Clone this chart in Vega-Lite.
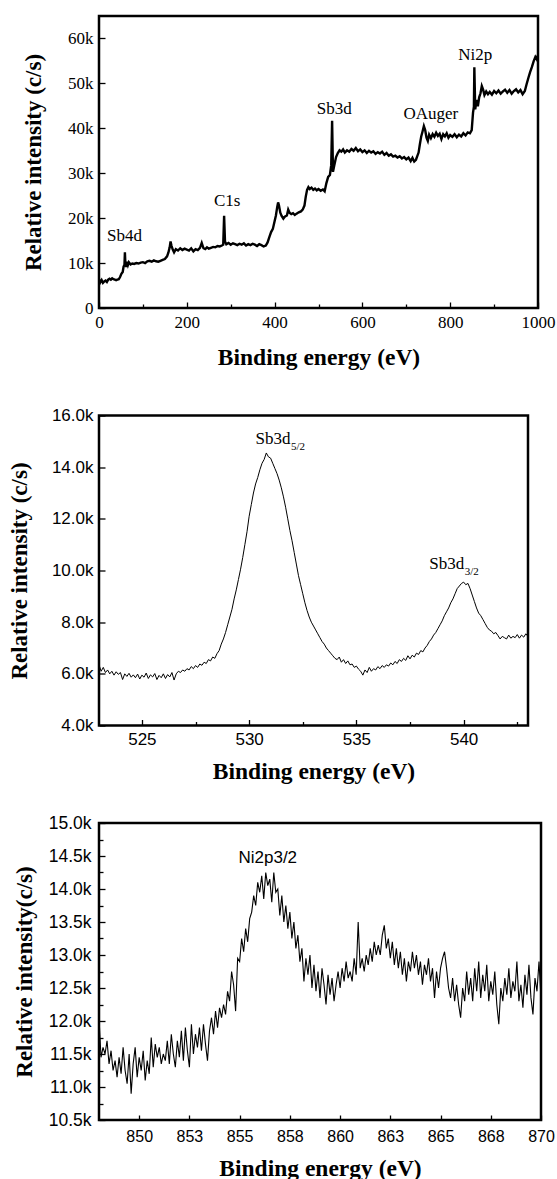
{
  "$schema": "https://vega.github.io/schema/vega-lite/v6.json",
  "background": "white",
  "padding": {"left": 7, "top": 14, "right": 5, "bottom": 1},
  "spacing": 27.5,
  "config": {
    "view": {"stroke": "black", "strokeWidth": 2.5},
    "axis": {"domain": false, "grid": false, "tickColor": "black", "labelColor": "black", "titleColor": "black", "labelFlush": false, "labelOverlap": false, "labelBound": false, "tickWidth": 1.3, "titleBaseline": "middle", "titleAlign": "center"},
    "text": {"color": "black"}
  },
  "datasets": {
    "survey": [
      {"x":0,"y":6400},{"x":3,"y":5700},{"x":6,"y":6200},{"x":9,"y":5600},{"x":12,"y":5900},{"x":15,"y":6100},{"x":18,"y":5800},{"x":21,"y":6300},{"x":24,"y":6500},{"x":27,"y":6300},{"x":30,"y":6600},{"x":33,"y":6400},{"x":36,"y":6300},{"x":39,"y":6200},{"x":42,"y":6300},{"x":45,"y":6400},{"x":48,"y":6900},{"x":51,"y":7600},{"x":54,"y":8000},{"x":56,"y":9200},{"x":58,"y":9600},{"x":59,"y":12400},{"x":60,"y":10100},{"x":62,"y":9100},{"x":64,"y":10300},{"x":66,"y":9600},{"x":68,"y":10200},{"x":72,"y":9700},{"x":76,"y":9900},{"x":80,"y":9800},{"x":85,"y":10000},{"x":90,"y":9900},{"x":95,"y":10100},{"x":100,"y":10200},{"x":105,"y":10000},{"x":110,"y":10400},{"x":115,"y":10500},{"x":120,"y":10300},{"x":125,"y":10600},{"x":130,"y":10400},{"x":135,"y":10300},{"x":140,"y":10500},{"x":145,"y":10700},{"x":150,"y":10900},{"x":155,"y":11500},{"x":158,"y":12300},{"x":161,"y":13500},{"x":163,"y":14800},{"x":165,"y":13900},{"x":168,"y":13000},{"x":171,"y":12400},{"x":175,"y":13100},{"x":180,"y":12800},{"x":185,"y":13300},{"x":190,"y":12900},{"x":195,"y":13200},{"x":200,"y":13000},{"x":205,"y":12800},{"x":210,"y":13300},{"x":215,"y":12600},{"x":220,"y":13100},{"x":225,"y":12900},{"x":230,"y":13400},{"x":234,"y":14500},{"x":238,"y":13300},{"x":242,"y":13100},{"x":246,"y":13500},{"x":250,"y":13200},{"x":255,"y":13400},{"x":260,"y":13600},{"x":265,"y":13500},{"x":270,"y":13800},{"x":275,"y":13700},{"x":280,"y":13900},{"x":283,"y":14100},{"x":285,"y":20500},{"x":287,"y":14800},{"x":290,"y":14200},{"x":295,"y":14500},{"x":300,"y":14100},{"x":305,"y":14400},{"x":310,"y":14200},{"x":315,"y":14000},{"x":320,"y":14300},{"x":325,"y":14100},{"x":330,"y":14400},{"x":335,"y":13900},{"x":340,"y":14200},{"x":345,"y":14000},{"x":350,"y":14300},{"x":355,"y":14100},{"x":360,"y":13800},{"x":365,"y":14200},{"x":370,"y":14000},{"x":375,"y":13700},{"x":380,"y":13900},{"x":384,"y":14600},{"x":388,"y":15800},{"x":392,"y":16900},{"x":396,"y":17600},{"x":400,"y":19300},{"x":403,"y":20600},{"x":406,"y":22500},{"x":408,"y":23500},{"x":410,"y":22800},{"x":413,"y":21200},{"x":416,"y":20500},{"x":420,"y":19900},{"x":424,"y":20400},{"x":428,"y":20600},{"x":431,"y":21900},{"x":434,"y":21200},{"x":438,"y":20900},{"x":442,"y":21100},{"x":446,"y":20700},{"x":450,"y":21000},{"x":455,"y":21300},{"x":460,"y":21500},{"x":464,"y":21900},{"x":468,"y":22800},{"x":471,"y":24800},{"x":474,"y":26300},{"x":477,"y":26900},{"x":480,"y":26500},{"x":484,"y":26800},{"x":488,"y":26300},{"x":492,"y":26600},{"x":496,"y":26200},{"x":500,"y":26500},{"x":505,"y":26100},{"x":510,"y":26400},{"x":514,"y":26000},{"x":518,"y":27800},{"x":522,"y":29200},{"x":526,"y":29600},{"x":529,"y":31800},{"x":531,"y":41700},{"x":533,"y":30300},{"x":536,"y":31800},{"x":540,"y":33600},{"x":544,"y":34500},{"x":548,"y":35100},{"x":552,"y":34800},{"x":556,"y":35300},{"x":560,"y":34600},{"x":565,"y":35100},{"x":570,"y":34800},{"x":575,"y":35400},{"x":580,"y":35000},{"x":585,"y":35600},{"x":590,"y":34900},{"x":595,"y":35300},{"x":600,"y":34700},{"x":605,"y":35100},{"x":610,"y":34500},{"x":615,"y":35000},{"x":620,"y":34600},{"x":625,"y":34900},{"x":630,"y":34300},{"x":635,"y":34700},{"x":640,"y":34400},{"x":645,"y":34800},{"x":650,"y":34100},{"x":655,"y":34500},{"x":660,"y":33900},{"x":665,"y":34200},{"x":670,"y":33700},{"x":675,"y":33900},{"x":680,"y":33500},{"x":685,"y":33800},{"x":690,"y":33300},{"x":695,"y":33600},{"x":700,"y":33100},{"x":705,"y":33500},{"x":710,"y":32700},{"x":714,"y":33400},{"x":718,"y":32600},{"x":722,"y":33000},{"x":725,"y":33800},{"x":728,"y":34600},{"x":731,"y":36500},{"x":734,"y":38200},{"x":737,"y":39300},{"x":740,"y":40500},{"x":743,"y":39600},{"x":746,"y":37900},{"x":749,"y":37200},{"x":752,"y":38600},{"x":756,"y":37800},{"x":760,"y":38700},{"x":764,"y":38100},{"x":768,"y":39000},{"x":772,"y":38300},{"x":776,"y":38800},{"x":780,"y":37600},{"x":784,"y":38700},{"x":788,"y":38200},{"x":792,"y":38900},{"x":796,"y":37900},{"x":800,"y":38500},{"x":805,"y":38100},{"x":810,"y":38700},{"x":815,"y":38000},{"x":820,"y":38600},{"x":825,"y":38200},{"x":830,"y":38900},{"x":835,"y":38400},{"x":840,"y":39100},{"x":845,"y":38900},{"x":849,"y":39600},{"x":852,"y":43500},{"x":854,"y":44800},{"x":855,"y":53600},{"x":857,"y":44200},{"x":860,"y":46300},{"x":863,"y":44900},{"x":866,"y":46900},{"x":869,"y":47800},{"x":872,"y":49400},{"x":875,"y":48600},{"x":878,"y":47400},{"x":882,"y":48200},{"x":886,"y":47600},{"x":890,"y":48100},{"x":895,"y":47500},{"x":900,"y":48300},{"x":905,"y":47800},{"x":910,"y":48400},{"x":915,"y":47700},{"x":920,"y":48200},{"x":925,"y":48600},{"x":930,"y":47900},{"x":935,"y":48500},{"x":940,"y":47700},{"x":945,"y":48300},{"x":950,"y":48700},{"x":955,"y":48000},{"x":960,"y":48500},{"x":965,"y":47600},{"x":970,"y":48300},{"x":974,"y":49800},{"x":978,"y":51200},{"x":982,"y":52500},{"x":986,"y":53600},{"x":990,"y":54900},{"x":994,"y":55900},{"x":997,"y":55400},{"x":1000,"y":56300}
    ],
    "labels1": [
      {"label":"Sb4d","x":58,"y":16000},
      {"label":"C1s","x":292,"y":23800},
      {"label":"Sb3d","x":536,"y":44200},
      {"label":"OAuger","x":756,"y":43100},
      {"label":"Ni2p","x":857,"y":56400}
    ],
    "sb": [
      {"x":523.0,"y":6350},{"x":523.1,"y":6100},{"x":523.2,"y":6250},{"x":523.3,"y":6050},{"x":523.4,"y":6150},{"x":523.5,"y":6000},{"x":523.6,"y":6100},{"x":523.7,"y":5950},{"x":523.8,"y":6080},{"x":523.9,"y":5980},
      {"x":524.0,"y":6050},{"x":524.1,"y":5780},{"x":524.2,"y":6000},{"x":524.3,"y":5900},{"x":524.4,"y":6020},{"x":524.5,"y":5870},{"x":524.6,"y":5960},{"x":524.7,"y":5850},{"x":524.8,"y":5990},{"x":524.9,"y":5800},
      {"x":525.0,"y":5950},{"x":525.1,"y":5870},{"x":525.2,"y":6030},{"x":525.3,"y":5820},{"x":525.4,"y":5960},{"x":525.5,"y":5880},{"x":525.6,"y":6010},{"x":525.7,"y":5780},{"x":525.8,"y":5940},{"x":525.9,"y":5850},
      {"x":526.0,"y":6000},{"x":526.1,"y":5820},{"x":526.2,"y":5970},{"x":526.3,"y":5880},{"x":526.4,"y":6050},{"x":526.5,"y":5760},{"x":526.6,"y":6000},{"x":526.7,"y":6100},{"x":526.8,"y":6050},{"x":526.9,"y":6150},
      {"x":527.0,"y":6100},{"x":527.1,"y":6200},{"x":527.2,"y":6150},{"x":527.3,"y":6280},{"x":527.4,"y":6200},{"x":527.5,"y":6320},{"x":527.6,"y":6250},{"x":527.7,"y":6380},{"x":527.8,"y":6330},{"x":527.9,"y":6450},
      {"x":528.0,"y":6400},{"x":528.1,"y":6550},{"x":528.2,"y":6500},{"x":528.3,"y":6650},{"x":528.4,"y":6600},{"x":528.5,"y":6780},{"x":528.6,"y":6900},{"x":528.7,"y":7150},{"x":528.8,"y":7350},{"x":528.9,"y":7600},
      {"x":529.0,"y":7900},{"x":529.1,"y":8200},{"x":529.2,"y":8500},{"x":529.3,"y":8900},{"x":529.4,"y":9250},{"x":529.5,"y":9650},{"x":529.6,"y":10050},{"x":529.7,"y":10500},{"x":529.8,"y":11000},{"x":529.9,"y":11500},
      {"x":530.0,"y":12100},{"x":530.1,"y":12550},{"x":530.2,"y":13000},{"x":530.3,"y":13350},{"x":530.4,"y":13600},{"x":530.5,"y":13900},{"x":530.6,"y":14150},{"x":530.7,"y":14300},{"x":530.8,"y":14550},{"x":530.9,"y":14400},
      {"x":531.0,"y":14350},{"x":531.1,"y":14150},{"x":531.2,"y":13950},{"x":531.3,"y":13750},{"x":531.4,"y":13500},{"x":531.5,"y":13200},{"x":531.6,"y":12850},{"x":531.7,"y":12450},{"x":531.8,"y":12000},{"x":531.9,"y":11550},
      {"x":532.0,"y":11150},{"x":532.1,"y":10700},{"x":532.2,"y":10250},{"x":532.3,"y":9800},{"x":532.4,"y":9450},{"x":532.5,"y":9100},{"x":532.6,"y":8750},{"x":532.7,"y":8450},{"x":532.8,"y":8200},{"x":532.9,"y":8000},
      {"x":533.0,"y":7850},{"x":533.1,"y":7700},{"x":533.2,"y":7550},{"x":533.3,"y":7400},{"x":533.4,"y":7250},{"x":533.5,"y":7150},{"x":533.6,"y":7000},{"x":533.7,"y":6900},{"x":533.8,"y":6800},{"x":533.9,"y":6700},
      {"x":534.0,"y":6600},{"x":534.1,"y":6550},{"x":534.2,"y":6650},{"x":534.3,"y":6450},{"x":534.4,"y":6550},{"x":534.5,"y":6400},{"x":534.6,"y":6500},{"x":534.7,"y":6350},{"x":534.8,"y":6380},{"x":534.9,"y":6250},
      {"x":535.0,"y":6300},{"x":535.1,"y":6180},{"x":535.2,"y":6100},{"x":535.3,"y":5950},{"x":535.4,"y":6150},{"x":535.5,"y":6050},{"x":535.6,"y":6250},{"x":535.7,"y":6100},{"x":535.8,"y":6200},{"x":535.9,"y":6150},
      {"x":536.0,"y":6280},{"x":536.1,"y":6200},{"x":536.2,"y":6320},{"x":536.3,"y":6250},{"x":536.4,"y":6350},{"x":536.5,"y":6300},{"x":536.6,"y":6420},{"x":536.7,"y":6350},{"x":536.8,"y":6480},{"x":536.9,"y":6400},
      {"x":537.0,"y":6550},{"x":537.1,"y":6480},{"x":537.2,"y":6600},{"x":537.3,"y":6520},{"x":537.4,"y":6700},{"x":537.5,"y":6580},{"x":537.6,"y":6720},{"x":537.7,"y":6650},{"x":537.8,"y":6800},{"x":537.9,"y":6750},
      {"x":538.0,"y":6900},{"x":538.1,"y":6850},{"x":538.2,"y":7000},{"x":538.3,"y":7100},{"x":538.4,"y":7250},{"x":538.5,"y":7350},{"x":538.6,"y":7500},{"x":538.7,"y":7600},{"x":538.8,"y":7750},{"x":538.9,"y":7900},
      {"x":539.0,"y":8050},{"x":539.1,"y":8250},{"x":539.2,"y":8400},{"x":539.3,"y":8550},{"x":539.4,"y":8750},{"x":539.5,"y":8900},{"x":539.6,"y":9100},{"x":539.7,"y":9300},{"x":539.8,"y":9400},{"x":539.9,"y":9500},
      {"x":540.0,"y":9550},{"x":540.1,"y":9450},{"x":540.2,"y":9500},{"x":540.3,"y":9300},{"x":540.4,"y":9050},{"x":540.5,"y":8800},{"x":540.6,"y":8550},{"x":540.7,"y":8350},{"x":540.8,"y":8250},{"x":540.9,"y":8100},
      {"x":541.0,"y":7950},{"x":541.1,"y":7800},{"x":541.2,"y":7700},{"x":541.3,"y":7650},{"x":541.4,"y":7550},{"x":541.5,"y":7600},{"x":541.6,"y":7480},{"x":541.7,"y":7350},{"x":541.8,"y":7450},{"x":541.9,"y":7400},
      {"x":542.0,"y":7350},{"x":542.1,"y":7500},{"x":542.2,"y":7380},{"x":542.3,"y":7450},{"x":542.4,"y":7400},{"x":542.5,"y":7520},{"x":542.6,"y":7380},{"x":542.7,"y":7500},{"x":542.8,"y":7420},{"x":542.9,"y":7550},
      {"x":543.0,"y":7450}
    ],
    "labels2": [
      {"label":"Sb3d","sub":"5/2","x":530.3,"xs":531.95,"y":15100,"ys":14780},
      {"label":"Sb3d","sub":"3/2","x":538.4,"xs":540.05,"y":10260,"ys":9940}
    ],
    "ni": [
      {"x":848.0,"y":12050},{"x":848.1,"y":11450},{"x":848.2,"y":11600},{"x":848.3,"y":11500},{"x":848.4,"y":11700},{"x":848.5,"y":11350},{"x":848.6,"y":11550},{"x":848.7,"y":11250},{"x":848.8,"y":11400},{"x":848.9,"y":11150},
      {"x":849.0,"y":11450},{"x":849.1,"y":11200},{"x":849.2,"y":11600},{"x":849.3,"y":11250},{"x":849.4,"y":11050},{"x":849.5,"y":11500},{"x":849.6,"y":10900},{"x":849.7,"y":11350},{"x":849.8,"y":11600},{"x":849.9,"y":11150},
      {"x":850.0,"y":11450},{"x":850.1,"y":11250},{"x":850.2,"y":11550},{"x":850.3,"y":11100},{"x":850.4,"y":11400},{"x":850.5,"y":11200},{"x":850.6,"y":11750},{"x":850.7,"y":11300},{"x":850.8,"y":11650},{"x":850.9,"y":11450},
      {"x":851.0,"y":11600},{"x":851.1,"y":11350},{"x":851.2,"y":11500},{"x":851.3,"y":11400},{"x":851.4,"y":11700},{"x":851.5,"y":11350},{"x":851.6,"y":11800},{"x":851.7,"y":11500},{"x":851.8,"y":11300},{"x":851.9,"y":11700},
      {"x":852.0,"y":11450},{"x":852.1,"y":11850},{"x":852.2,"y":11400},{"x":852.3,"y":11900},{"x":852.4,"y":11550},{"x":852.5,"y":11300},{"x":852.6,"y":11950},{"x":852.7,"y":11500},{"x":852.8,"y":11800},{"x":852.9,"y":11600},
      {"x":853.0,"y":11900},{"x":853.1,"y":11550},{"x":853.2,"y":11950},{"x":853.3,"y":11650},{"x":853.4,"y":11400},{"x":853.5,"y":11850},{"x":853.6,"y":12050},{"x":853.7,"y":11800},{"x":853.8,"y":12150},{"x":853.9,"y":11900},
      {"x":854.0,"y":12200},{"x":854.1,"y":12050},{"x":854.2,"y":12250},{"x":854.3,"y":12100},{"x":854.4,"y":12450},{"x":854.5,"y":12300},{"x":854.6,"y":12750},{"x":854.7,"y":12550},{"x":854.8,"y":12150},{"x":854.9,"y":12950},
      {"x":855.0,"y":12900},{"x":855.1,"y":13250},{"x":855.2,"y":13050},{"x":855.3,"y":13400},{"x":855.4,"y":13200},{"x":855.5,"y":13550},{"x":855.6,"y":13650},{"x":855.7,"y":13900},{"x":855.8,"y":13750},{"x":855.9,"y":14100},
      {"x":856.0,"y":13950},{"x":856.1,"y":14200},{"x":856.2,"y":13850},{"x":856.3,"y":14250},{"x":856.4,"y":14050},{"x":856.5,"y":14150},{"x":856.6,"y":13800},{"x":856.7,"y":14250},{"x":856.8,"y":13950},{"x":856.9,"y":14000},
      {"x":857.0,"y":13600},{"x":857.1,"y":13900},{"x":857.2,"y":13500},{"x":857.3,"y":13750},{"x":857.4,"y":13400},{"x":857.5,"y":13650},{"x":857.6,"y":13250},{"x":857.7,"y":13500},{"x":857.8,"y":13100},{"x":857.9,"y":13300},
      {"x":858.0,"y":12900},{"x":858.1,"y":13100},{"x":858.2,"y":12600},{"x":858.3,"y":12950},{"x":858.4,"y":12700},{"x":858.5,"y":13000},{"x":858.6,"y":12500},{"x":858.7,"y":12850},{"x":858.8,"y":12450},{"x":858.9,"y":12750},
      {"x":859.0,"y":12350},{"x":859.1,"y":12800},{"x":859.2,"y":12550},{"x":859.3,"y":12250},{"x":859.4,"y":12700},{"x":859.5,"y":12400},{"x":859.6,"y":12650},{"x":859.7,"y":12300},{"x":859.8,"y":12550},{"x":859.9,"y":12750},
      {"x":860.0,"y":12500},{"x":860.1,"y":12800},{"x":860.2,"y":12600},{"x":860.3,"y":12900},{"x":860.4,"y":12650},{"x":860.5,"y":12750},{"x":860.6,"y":12600},{"x":860.7,"y":12950},{"x":860.8,"y":12700},{"x":860.9,"y":13500},
      {"x":861.0,"y":12800},{"x":861.1,"y":12950},{"x":861.2,"y":12750},{"x":861.3,"y":13000},{"x":861.4,"y":12850},{"x":861.5,"y":13100},{"x":861.6,"y":12900},{"x":861.7,"y":13200},{"x":861.8,"y":13000},{"x":861.9,"y":13150},
      {"x":862.0,"y":13000},{"x":862.1,"y":13300},{"x":862.2,"y":13450},{"x":862.3,"y":13100},{"x":862.4,"y":13250},{"x":862.5,"y":12950},{"x":862.6,"y":13200},{"x":862.7,"y":12850},{"x":862.8,"y":13100},{"x":862.9,"y":12800},
      {"x":863.0,"y":13050},{"x":863.1,"y":12700},{"x":863.2,"y":12950},{"x":863.3,"y":12600},{"x":863.4,"y":12900},{"x":863.5,"y":12750},{"x":863.6,"y":13050},{"x":863.7,"y":12800},{"x":863.8,"y":13000},{"x":863.9,"y":12700},
      {"x":864.0,"y":12900},{"x":864.1,"y":12550},{"x":864.2,"y":12850},{"x":864.3,"y":12700},{"x":864.4,"y":12950},{"x":864.5,"y":12600},{"x":864.6,"y":12800},{"x":864.7,"y":12350},{"x":864.8,"y":12750},{"x":864.9,"y":12500},
      {"x":865.0,"y":12800},{"x":865.1,"y":12950},{"x":865.2,"y":13050},{"x":865.3,"y":12800},{"x":865.4,"y":12500},{"x":865.5,"y":12350},{"x":865.6,"y":12650},{"x":865.7,"y":12300},{"x":865.8,"y":12550},{"x":865.9,"y":12250},
      {"x":866.0,"y":12050},{"x":866.1,"y":12500},{"x":866.2,"y":12300},{"x":866.3,"y":12750},{"x":866.4,"y":12400},{"x":866.5,"y":12650},{"x":866.6,"y":12300},{"x":866.7,"y":12800},{"x":866.8,"y":12450},{"x":866.9,"y":12900},
      {"x":867.0,"y":12350},{"x":867.1,"y":12700},{"x":867.2,"y":12450},{"x":867.3,"y":12850},{"x":867.4,"y":12300},{"x":867.5,"y":12600},{"x":867.6,"y":12400},{"x":867.7,"y":12750},{"x":867.8,"y":12250},{"x":867.9,"y":11950},
      {"x":868.0,"y":12500},{"x":868.1,"y":12300},{"x":868.2,"y":12650},{"x":868.3,"y":12400},{"x":868.4,"y":12800},{"x":868.5,"y":12350},{"x":868.6,"y":12600},{"x":868.7,"y":12450},{"x":868.8,"y":12900},{"x":868.9,"y":12300},
      {"x":869.0,"y":12550},{"x":869.1,"y":12200},{"x":869.2,"y":12700},{"x":869.3,"y":12400},{"x":869.4,"y":12850},{"x":869.5,"y":12350},{"x":869.6,"y":12100},{"x":869.7,"y":12650},{"x":869.8,"y":12450},{"x":869.9,"y":12900},
      {"x":870.0,"y":12350}
    ],
    "labels3": [
      {"label":"Ni2p3/2","x":856.4,"y":14470}
    ]
  },
  "vconcat": [
    {
      "width": 439,
      "height": 292,
      "layer": [
        {
          "data": {"name": "survey"},
          "mark": {"type": "line", "color": "black", "strokeWidth": 2.4, "clip": true},
          "encoding": {
            "x": {"field": "x", "type": "quantitative", "scale": {"domain": [0, 1000], "nice": false, "zero": false},
              "axis": {"title": "Binding energy (eV)", "values": [0,100,200,300,400,500,600,700,800,900,1000], "labelExpr": "datum.value % 200 === 0 ? format(datum.value, 'd') : ''", "labelOverlap": false, "tickSize": {"condition": {"test": "datum.value % 200 === 0", "value": -6}, "value": -4}, "labelFont": "Liberation Serif", "labelFontSize": 17, "labelPadding": 12.5, "titleFont": "Liberation Serif", "titleFontSize": 23.5, "titleFontWeight": "bold", "titleY": 49.3}},
            "y": {"field": "y", "type": "quantitative", "scale": {"domain": [0, 65000], "nice": false, "zero": false},
              "axis": {"title": "Relative intensity (c/s)", "values": [0,5000,10000,15000,20000,25000,30000,35000,40000,45000,50000,55000,60000,65000], "labelExpr": "datum.value % 10000 === 0 ? (datum.value === 0 ? '0' : (datum.value / 1000) + 'k') : ''", "labelOverlap": false, "tickSize": {"condition": {"test": "datum.value % 10000 === 0", "value": -6}, "value": -4}, "labelFont": "Liberation Serif", "labelFontSize": 17, "labelPadding": 12, "titleFont": "Liberation Serif", "titleFontSize": 23, "titleFontWeight": "bold", "titleX": -65.5}}
          }
        },
        {
          "data": {"name": "labels1"},
          "mark": {"type": "text", "font": "Liberation Serif", "fontSize": 17, "baseline": "middle", "align": "center"},
          "encoding": {
            "x": {"field": "x", "type": "quantitative"},
            "y": {"field": "y", "type": "quantitative"},
            "text": {"field": "label"}
          }
        }
      ]
    },
    {
      "width": 429,
      "height": 310,
      "title": {"text": " ", "fontSize": 6.5, "offset": 0},
      "layer": [
        {
          "data": {"name": "sb"},
          "mark": {"type": "line", "color": "black", "strokeWidth": 1, "clip": true},
          "encoding": {
            "x": {"field": "x", "type": "quantitative", "scale": {"domain": [523, 543], "nice": false, "zero": false},
              "axis": {"title": "Binding energy (eV)", "values": [525,527.5,530,532.5,535,537.5,540,542.5], "labelExpr": "datum.value % 5 === 0 ? datum.label : ''", "labelOverlap": false, "tickSize": {"condition": {"test": "datum.value % 5 === 0", "value": -6}, "value": -4}, "labelFont": "Liberation Sans", "labelFontSize": 17, "labelPadding": 12, "titleFont": "Liberation Serif", "titleFontSize": 23.5, "titleFontWeight": "bold", "titleY": 45.5}},
            "y": {"field": "y", "type": "quantitative", "scale": {"domain": [4000, 16000], "nice": false, "zero": false},
              "axis": {"title": "Relative intensity (c/s)", "values": [4000,5000,6000,7000,8000,9000,10000,11000,12000,13000,14000,15000,16000], "labelExpr": "datum.value % 2000 === 0 ? format(datum.value / 1000, '.1f') + 'k' : ''", "labelOverlap": false, "tickSize": {"condition": {"test": "datum.value % 2000 === 0", "value": -6}, "value": -4}, "labelFont": "Liberation Sans", "labelFontSize": 17, "labelPadding": 12, "titleFont": "Liberation Serif", "titleFontSize": 23, "titleFontWeight": "bold", "titleX": -79.7}}
          }
        },
        {
          "data": {"name": "labels2"},
          "mark": {"type": "text", "font": "Liberation Serif", "fontSize": 17, "baseline": "middle", "align": "left"},
          "encoding": {
            "x": {"field": "x", "type": "quantitative"},
            "y": {"field": "y", "type": "quantitative"},
            "text": {"field": "label"}
          }
        },
        {
          "data": {"name": "labels2"},
          "mark": {"type": "text", "font": "Liberation Serif", "fontSize": 11, "baseline": "middle", "align": "left"},
          "encoding": {
            "x": {"field": "xs", "type": "quantitative"},
            "y": {"field": "ys", "type": "quantitative"},
            "text": {"field": "sub"}
          }
        }
      ]
    },
    {
      "width": 442,
      "height": 297,
      "resolve": {"axis": {"y": "independent"}},
      "layer": [
        {
          "data": {"name": "ni"},
          "mark": {"type": "line", "color": "black", "strokeWidth": 1.1, "clip": true},
          "encoding": {
            "x": {"field": "x", "type": "quantitative", "scale": {"domain": [848, 870], "nice": false, "zero": false},
              "axis": {"title": "Binding energy (eV)", "values": [850,852.5,855,857.5,860,862.5,865,867.5,870], "format": ".0f", "labelOverlap": false, "tickSize": -5, "labelFont": "Liberation Sans", "labelFontSize": 16, "labelPadding": 13, "titleFont": "Liberation Serif", "titleFontSize": 23.5, "titleFontWeight": "bold", "titleY": 48.3}},
            "y": {"field": "y", "type": "quantitative", "scale": {"domain": [10500, 15000], "nice": false, "zero": false},
              "axis": {"orient": "left", "title": "Relative intensity(c/s)", "values": [10500,11000,11500,12000,12500,13000,13500,14000,14500,15000], "labelExpr": "format(datum.value / 1000, '.1f') + 'k'", "labelOverlap": false, "tickSize": -6, "labelFont": "Liberation Sans", "labelFontSize": 17.5, "labelPadding": 14, "titleFont": "Liberation Serif", "titleFontSize": 23, "titleFontWeight": "bold", "titleX": -74.4}}
          }
        },
        {
          "data": {"name": "labels3"},
          "mark": {"type": "text", "font": "Liberation Sans", "fontSize": 17, "baseline": "middle", "align": "center"},
          "encoding": {
            "x": {"field": "x", "type": "quantitative"},
            "y": {"field": "y", "type": "quantitative",
              "axis": {"orient": "left", "title": null, "labels": false, "values": [10750,11250,11750,12250,12750,13250,13750,14250,14750], "tickSize": -4}},
            "text": {"field": "label"}
          }
        }
      ]
    }
  ]
}
